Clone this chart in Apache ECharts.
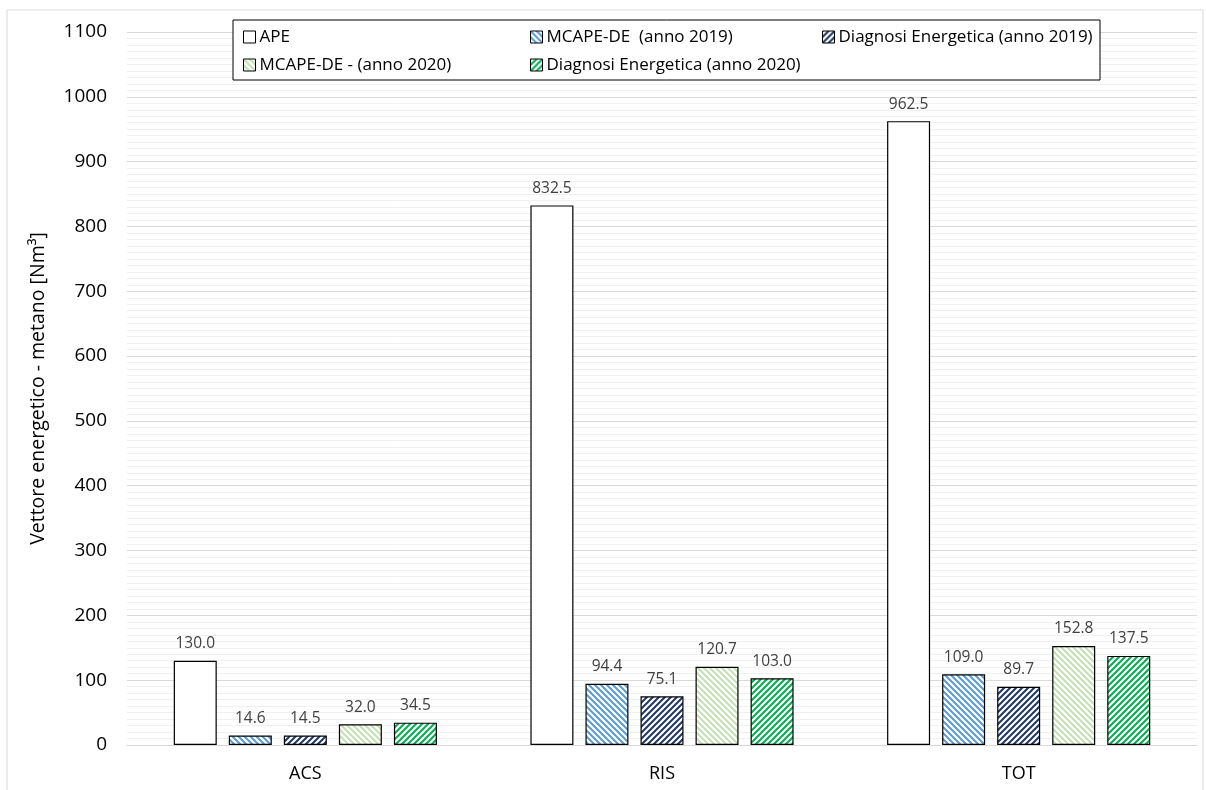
<!DOCTYPE html>
<html>
<head>
<meta charset="utf-8">
<script src="https://cdn.jsdelivr.net/npm/echarts@6/dist/echarts.min.js"></script>
<style>
html,body{margin:0;padding:0;background:#fff;}
#main{width:1206px;height:790px;}
</style>
</head>
<body>
<div id="main"></div>
<script>
var categories = ['ACS', 'RIS', 'TOT'];
var ape = [130.0, 832.5, 962.5];
var mcape2019 = [14.6, 94.4, 109.0];
var diagnosi2019 = [14.5, 75.1, 89.7];
var mcape2020 = [32.0, 120.7, 152.8];
var diagnosi2020 = [34.5, 103.0, 137.5];
var yTicks = [0, 1100, 100];

var chart = echarts.init(document.getElementById('main'));

// tratteggio diagonale su canvas
function hatch(color, dir) {
    var c = document.createElement('canvas');
    c.width = 6; c.height = 6;
    var ctx = c.getContext('2d');
    ctx.fillStyle = '#fff';
    ctx.fillRect(0, 0, 6, 6);
    ctx.strokeStyle = color;
    ctx.lineWidth = 2;
    ctx.beginPath();
    if (dir === '/') {
        ctx.moveTo(-1, 7); ctx.lineTo(7, -1);
        ctx.moveTo(-4, 4); ctx.lineTo(4, -4);
        ctx.moveTo(2, 10); ctx.lineTo(10, 2);
    } else {
        ctx.moveTo(-1, -1); ctx.lineTo(7, 7);
        ctx.moveTo(-4, 2); ctx.lineTo(4, 10);
        ctx.moveTo(2, -4); ctx.lineTo(10, 4);
    }
    ctx.stroke();
    return {image: c, repeat: 'repeat'};
}

var font = 'Open Sans';
var label = {
    show: true,
    position: 'top',
    distance: 9,
    color: '#404040',
    fontSize: 15.5,
    fontFamily: font,
    formatter: function (p) { return p.value.toFixed(1); }
};

function serie(name, data, fill) {
    return {
        name: name,
        type: 'bar',
        data: data,
        barWidth: 43,
        barGap: '28%',
        itemStyle: {color: fill, borderColor: '#000', borderWidth: 1.2},
        label: label
    };
}

var legendBase = {
    orient: 'vertical',
    top: 27,
    padding: 0,
    itemWidth: 12,
    itemHeight: 12,
    itemGap: 8,
    icon: 'rect',
    textStyle: {fontSize: 17, lineHeight: 20, color: '#000', fontFamily: font, padding: [0, 0, 0, -1]},
    itemStyle: {borderColor: '#000', borderWidth: 1}
};

var option = {
    backgroundColor: '#fff',
    animation: false,
    graphic: [
        {type: 'rect', shape: {x: 7, y: 10, width: 1196, height: 790}, style: {fill: 'none', stroke: '#d9d9d9', lineWidth: 1}, z: -1},
        {type: 'rect', shape: {x: 233, y: 20, width: 867, height: 60}, style: {fill: '#fff', stroke: '#000', lineWidth: 1}, z: 5}
    ],
    legend: [
        Object.assign({}, legendBase, {left: 243, data: ['APE', 'MCAPE-DE - (anno 2020)'], z: 10}),
        Object.assign({}, legendBase, {left: 530, data: ['MCAPE-DE  (anno 2019)', 'Diagnosi Energetica (anno 2020)'], z: 10}),
        Object.assign({}, legendBase, {left: 822, data: ['Diagnosi Energetica (anno 2019)'], z: 10})
    ],
    grid: {left: 127, right: 9, top: 32, bottom: 45},
    xAxis: {
        type: 'category',
        data: categories,
        axisTick: {show: false},
        axisLine: {lineStyle: {color: '#d9d9d9', width: 1}},
        axisLabel: {fontSize: 18, color: '#000', fontFamily: font, margin: 20}
    },
    yAxis: {
        type: 'value',
        min: yTicks[0],
        max: yTicks[1],
        interval: yTicks[2],
        name: 'Vettore energetico - metano [Nm³]',
        nameLocation: 'middle',
        nameGap: 79,
        nameTextStyle: {fontSize: 19.5, color: '#000', fontFamily: font},
        axisLine: {show: false},
        axisTick: {show: false},
        axisLabel: {fontSize: 19, color: '#000', fontFamily: font, margin: 20, formatter: function (v) { return String(v); }},
        splitLine: {lineStyle: {color: '#d9d9d9'}},
        minorTick: {show: false, splitNumber: 10},
        minorSplitLine: {show: true, lineStyle: {color: '#f0f0f0'}}
    },
    series: [
        serie('APE', ape, '#fff'),
        serie('MCAPE-DE  (anno 2019)', mcape2019, hatch('#5b9bd5', '\\')),
        serie('Diagnosi Energetica (anno 2019)', diagnosi2019, hatch('#203864', '/')),
        serie('MCAPE-DE - (anno 2020)', mcape2020, hatch('#c5e0b4', '\\')),
        serie('Diagnosi Energetica (anno 2020)', diagnosi2020, hatch('#00b050', '/'))
    ]
};

chart.setOption(option);

window.addEventListener('resize', function () {
    chart.resize();
});
</script>
</body>
</html>
